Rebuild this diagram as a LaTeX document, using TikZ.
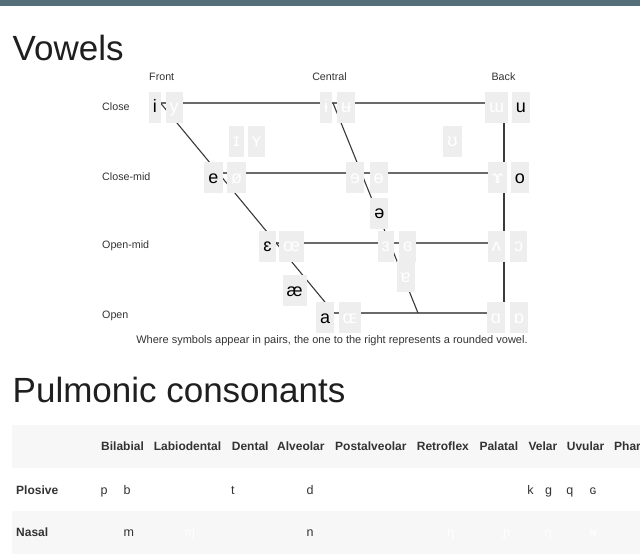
\documentclass[tikz,border=0pt]{standalone}
\usepackage{fontspec}
\setmainfont{Liberation Sans}
\definecolor{barc}{HTML}{546E7A}
\definecolor{boxgray}{HTML}{EEEEEE}
\definecolor{linec}{HTML}{3A3A3A}
\definecolor{hlinec}{HTML}{6A6A6A}
\definecolor{txt}{HTML}{333333}
\definecolor{band}{HTML}{F7F7F7}
\tikzset{
  heading/.style={font=\fontsize{35}{40}\selectfont, text=black!88, inner sep=0pt, anchor=base west},
  chartlabel/.style={font=\fontsize{10.7}{12}\selectfont, text=txt, inner sep=0pt, anchor=base west},
  vbox/.style={fill=boxgray, minimum height=31pt, inner xsep=4pt, inner ysep=0pt,
               text height=14pt, text depth=2.4pt, font=\fontsize{18}{20}\selectfont},
  known/.style={vbox, text=black},
  faded/.style={vbox, text=white},
  chartline/.style={draw=linec, line width=1.1pt},
  hline/.style={draw=hlinec, line width=1.8pt},
  thead/.style={font=\bfseries\fontsize{12}{14}\selectfont, text=txt, inner sep=0pt, anchor=base west},
  csym/.style={font=\fontsize{12.5}{14}\selectfont, text=txt, inner sep=0pt, anchor=base west},
  cfaded/.style={csym, text=white},
}
\begin{document}
\begin{tikzpicture}[x=1pt,y=-1pt]
\fill[white] (0,0) rectangle (640,554);
\useasboundingbox (0,0) rectangle (640,554);
\fill[barc] (0,0) rectangle (640,6);

% headings
\node[heading] (vowels) at (12.5,60.5) {Vowels};

% column labels
\node[chartlabel, anchor=base] (front) at (161.7,80.7) {Front};
\node[chartlabel, anchor=base] (central) at (329.5,80.7) {Central};
\node[chartlabel, anchor=base] (back) at (503.5,80.7) {Back};
% row labels
\node[chartlabel] (lclose) at (102,110) {Close};
\node[chartlabel] (lclosemid) at (102,180.7) {Close-mid};
\node[chartlabel] (lopenmid) at (102,248.3) {Open-mid};
\node[chartlabel] (lopen) at (102,318.3) {Open};

% chart vertices
\coordinate (CF) at (160.5,103);
\coordinate (CC) at (333,103);
\coordinate (CB) at (504,103);
\coordinate (CMF) at (218.4,173);
\coordinate (CMC) at (361.3,173);
\coordinate (CMB) at (504,173);
\coordinate (OMF) at (276.2,243);
\coordinate (OMC) at (389.6,243);
\coordinate (OMB) at (504,243);
\coordinate (OF) at (334,313);
\coordinate (OC) at (418,313);
\coordinate (OB) at (504,313);

\draw[hline] (CF) -- (CB);
\draw[hline] (CMF) -- (CMB);
\draw[hline] (OMF) -- (OMB);
\draw[hline] (OF) -- (OB);
\draw[chartline] (CF) -- (OF);
\draw[chartline] (CC) -- (OC);
\draw[chartline] (CB) -- (OB);

% close
\node[known, anchor=east] (i) at (161,107) {i};
\node[faded, anchor=west] (y) at (165.3,107) {y};
\node[faded, anchor=east] (ibar) at (332.3,107) {ɨ};
\node[faded, anchor=west] (ubar) at (337,107) {ʉ};
\node[faded, anchor=east] (turnm) at (508.3,107) {ɯ};
\node[known, anchor=west] (u) at (511.7,107) {u};
% near-close
\node[faded, anchor=east] (smalli) at (244,141) {ɪ};
\node[faded, anchor=west] (smally) at (247.7,141) {ʏ};
\node[faded] (upsilon) at (452.5,141) {ʊ};
% close-mid
\node[known, anchor=east] (e) at (222.7,177.3) {e};
\node[faded, anchor=west] (oslash) at (227,177.3) {ø};
\node[faded, anchor=east] (reve) at (364.3,177.3) {ɘ};
\node[faded, anchor=west] (obar) at (369.3,177.3) {ɵ};
\node[faded, anchor=east] (ramshorn) at (507.3,177.3) {ɤ};
\node[known, anchor=west] (o) at (510.7,177.3) {o};
% mid
\node[known] (schwa) at (379.3,213) {ə};
% open-mid
\node[known, anchor=east] (epsilon) at (275.7,246) {ɛ};
\node[faded, anchor=west] (oe) at (279,246) {œ};
\node[faded, anchor=east] (reveps) at (394,246) {ɜ};
\node[faded, anchor=west] (closedreveps) at (399,246) {ɞ};
\node[faded, anchor=east] (turnv) at (505,246) {ʌ};
\node[faded, anchor=west] (openo) at (510,246) {ɔ};
% near-open
\node[known] (ae) at (294.7,290.5) {æ};
\node[faded] (turna) at (405.7,276.7) {ɐ};
% open
\node[known, anchor=east] (a) at (334.3,317.5) {a};
\node[faded, anchor=west] (smalloe) at (338.3,317.5) {ɶ};
\node[faded, anchor=east] (alpha) at (505,317.5) {ɑ};
\node[faded, anchor=west] (turnalpha) at (510,317.5) {ɒ};

\node[chartlabel, anchor=base, font=\fontsize{11}{12}\selectfont] (caption) at (332,343.3) {Where symbols appear in pairs, the one to the right represents a rounded vowel.};

% consonants
\node[heading] (pulm) at (12.5,402.3) {Pulmonic consonants};
\fill[band] (12,425) rectangle (640,467.7);
\fill[band] (12,510.7) rectangle (640,554);

\node[thead] (hbil) at (101,450.5) {Bilabial};
\node[thead] (hlab) at (153.7,450.5) {Labiodental};
\node[thead] (hden) at (231.7,450.5) {Dental};
\node[thead] (halv) at (277,450.5) {Alveolar};
\node[thead] (hpos) at (335,450.5) {Postalveolar};
\node[thead] (hret) at (416.7,450.5) {Retroflex};
\node[thead] (hpal) at (479.3,450.5) {Palatal};
\node[thead] (hvel) at (528.3,450.5) {Velar};
\node[thead] (huvu) at (566.7,450.5) {Uvular};
\node[thead] (hpha) at (614,450.5) {Phar};

\node[thead] (rplo) at (16,494) {Plosive};
\node[thead] (rnas) at (16,536.7) {Nasal};

\node[csym] (cp) at (100.5,494) {p};
\node[csym] (cb) at (123.5,494) {b};
\node[csym] (ct) at (231,494) {t};
\node[csym] (cd) at (306.5,494) {d};
\node[csym] (ck) at (527.2,494) {k};
\node[csym] (cg) at (544.8,494) {ɡ};
\node[csym] (cq) at (566.2,494) {q};
\node[csym] (cG) at (589.5,494) {ɢ};

\node[csym] (cm) at (123.5,536.7) {m};
\node[cfaded] (cmg) at (184.5,536.7) {ɱ};
\node[csym] (cn) at (306.5,536.7) {n};
\node[cfaded] (cnr) at (446.8,536.7) {ɳ};
\node[cfaded] (cnj) at (502.8,536.7) {ɲ};
\node[cfaded] (cng) at (544.5,536.7) {ŋ};
\node[cfaded] (cN) at (589.5,536.7) {ɴ};
\end{tikzpicture}
\end{document}
